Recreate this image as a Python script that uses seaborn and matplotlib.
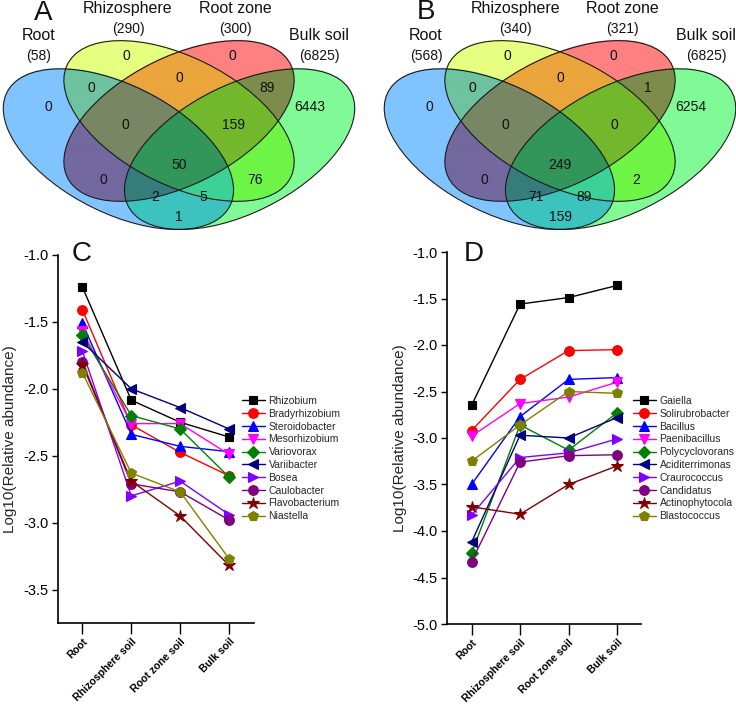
import matplotlib
matplotlib.use("Agg")
import matplotlib.pyplot as plt
import matplotlib.colors as mcolors
import seaborn as sns
import pandas as pd
import numpy as np
from matplotlib.patches import Ellipse

# ---------------- data ----------------
venn_sets = ["Root", "Rhizosphere", "Root zone", "Bulk soil"]
venn_a_totals = [58, 290, 300, 6825]
venn_b_totals = [568, 340, 321, 6825]
# region order: Root, Rhizo, RootZone, Bulk, Root&Rhizo, Rhizo&RZ, RZ&Bulk,
# Root&Rhizo&RZ, Rhizo&RZ&Bulk, Root&RZ, all four, Rhizo&Bulk,
# Root&RZ&Bulk, Root&Rhizo&Bulk, Root&Bulk
venn_a_counts = [0, 0, 0, 6443, 0, 0, 89, 0, 159, 0, 50, 76, 2, 5, 1]
venn_b_counts = [0, 0, 0, 6254, 0, 0, 1, 0, 0, 0, 249, 2, 71, 89, 159]

sites = ["Root", "Rhizosphere soil", "Root zone soil", "Bulk soil"]

c_genera = ["Rhizobium", "Bradyrhizobium", "Steroidobacter", "Mesorhizobium",
            "Variovorax", "Variibacter", "Bosea", "Caulobacter",
            "Flavobacterium", "Niastella"]
c_values = [
    [-1.24, -2.085, -2.25, -2.36],
    [-1.41, -2.27, -2.475, -2.65],
    [-1.51, -2.34, -2.43, -2.47],
    [-1.57, -2.26, -2.26, -2.49],
    [-1.60, -2.20, -2.30, -2.66],
    [-1.65, -2.00, -2.14, -2.30],
    [-1.72, -2.80, -2.69, -2.94],
    [-1.80, -2.71, -2.77, -2.98],
    [-1.82, -2.69, -2.95, -3.32],
    [-1.88, -2.63, -2.77, -3.27],
]

d_genera = ["Gaiella", "Solirubrobacter", "Bacillus", "Paenibacillus",
            "Polycyclovorans", "Aciditerrimonas", "Craurococcus", "Candidatus",
            "Actinophytocola", "Blastococcus"]
d_values = [
    [-2.65, -1.56, -1.49, -1.36],
    [-2.92, -2.37, -2.06, -2.05],
    [-3.50, -2.77, -2.37, -2.35],
    [-2.98, -2.63, -2.56, -2.40],
    [-4.24, -2.86, -3.13, -2.73],
    [-4.12, -2.97, -3.00, -2.78],
    [-3.83, -3.21, -3.16, -3.01],
    [-4.33, -3.26, -3.19, -3.18],
    [-3.74, -3.82, -3.50, -3.30],
    [-3.25, -2.86, -2.50, -2.52],
]

# ---------------- style ----------------
sns.set_theme(style="ticks")
plt.rcParams['font.family'] = ['Liberation Sans', 'DejaVu Sans']
plt.rcParams['axes.unicode_minus'] = False

W, H = 736, 706
fig = plt.figure(figsize=(W / 100, H / 100), dpi=100)


def fx(px):
    return px / W


def fy(py):
    return 1 - py / H


line_colors = ["#000000", "#FF0000", "#0000FF", "#FF00FF", "#008000",
               "#000080", "#8000FF", "#800080", "#800000", "#808000"]
line_markers = ["s", "o", "^", "v", "D", "<", ">", "o", "*", "p"]
marker_sizes = [6, 7, 7, 7, 6, 7, 7, 7, 9, 7.5]

# ---------------- Venn diagrams ----------------
ell_specs = [((0.35, 0.47), 135), ((0.50, 0.57), 135),
             ((0.50, 0.57), 45), ((0.65, 0.47), 45)]
ELL_A, ELL_B = 0.35, 0.20
# membership keys (Root, Rhizo, RootZone, Bulk) in the same order as counts
region_keys = [(1, 0, 0, 0), (0, 1, 0, 0), (0, 0, 1, 0), (0, 0, 0, 1),
               (1, 1, 0, 0), (0, 1, 1, 0), (0, 0, 1, 1), (1, 1, 1, 0),
               (0, 1, 1, 1), (1, 0, 1, 0), (1, 1, 1, 1), (0, 1, 0, 1),
               (1, 0, 1, 1), (1, 1, 0, 1), (1, 0, 0, 1)]
region_colors = ["#80C4FF", "#E6FF80", "#FF8080", "#80FA96",
                 "#6EC3A0", "#EBA53C", "#7D8C4B", "#788764",
                 "#73B82D", "#73699F", "#32965A", "#6EF546",
                 "#367D7D", "#3CD296", "#3CC3BE"]
region_pos = [(0.176, 0.620), (0.369, 0.801), (0.631, 0.801), (0.824, 0.620),
              (0.282, 0.687), (0.500, 0.7225), (0.718, 0.687),
              (0.366, 0.556), (0.634, 0.556), (0.312, 0.3605),
              (0.500, 0.414), (0.688, 0.3605), (0.441, 0.300),
              (0.559, 0.300), (0.500, 0.229)]
label_pos = [(0.1535, 0.8751, 0.8006), (0.3738, 0.9709, 0.8964),
             (0.6386, 0.9709, 0.8964), (0.8465, 0.8751, 0.8006)]
VENN_YLIM = (0.0767, 0.9993)


def venn_image(xlim, ylim, nx=1472, ny=1040):
    xs = np.linspace(xlim[0], xlim[1], nx)
    ys = np.linspace(ylim[0], ylim[1], ny)
    X, Y = np.meshgrid(xs, ys)
    masks = []
    for (c, ang) in ell_specs:
        t = np.deg2rad(ang)
        dx, dy = X - c[0], Y - c[1]
        u = dx * np.cos(t) + dy * np.sin(t)
        v = -dx * np.sin(t) + dy * np.cos(t)
        masks.append((u / ELL_A) ** 2 + (v / ELL_B) ** 2 <= 1)
    img = np.ones(X.shape + (3,))
    for key, col in zip(region_keys, region_colors):
        m = np.ones(X.shape, bool)
        for k, inside in zip(key, masks):
            m &= inside if k else ~inside
        img[m] = mcolors.to_rgb(col)
    return img


def draw_venn(rect, xlim, totals, counts, letter, letter_xy, lab_shift):
    ax = fig.add_axes(rect)
    img = venn_image(xlim, VENN_YLIM)
    ax.imshow(img, origin="lower", extent=(xlim[0], xlim[1],
                                           VENN_YLIM[0], VENN_YLIM[1]),
              aspect="auto", interpolation="antialiased")
    ax.set_xlim(*xlim)
    ax.set_ylim(*VENN_YLIM)
    ax.axis("off")
    for (c, ang) in ell_specs:
        ax.add_patch(Ellipse(c, 2 * ELL_A, 2 * ELL_B, angle=ang, fill=False,
                             edgecolor="#1a1a1a", linewidth=0.8))
    for (x, y), n in zip(region_pos, counts):
        ax.text(x, y, str(n), ha="center", va="center", fontsize=10,
                color="#111111")
    for (x, y1, y2), name, tot in zip(label_pos, venn_sets, totals):
        ax.text(x + lab_shift, y1, name, ha="center", va="center",
                fontsize=11.5, color="#111111")
        ax.text(x + lab_shift, y2, f"({tot})", ha="center", va="center",
                fontsize=10, color="#111111")
    fig.text(fx(letter_xy[0]), fy(letter_xy[1]), letter, ha="center",
             va="center", fontsize=20, color="#111111")


draw_venn([0, fy(260), 368 / W, 260 / H], (0.0569, 0.9678),
          venn_a_totals, venn_a_counts, "A", (43, 13), 0.0)
draw_venn([368 / W, fy(260), 368 / W, 260 / H], (0.0248, 0.9356),
          venn_b_totals, venn_b_counts, "B", (426, 12), 0.015)


# ---------------- line charts ----------------
def draw_lines(rect, genera, values, ylim, yticks, letter, letter_xy,
               leg_xy):
    ax = fig.add_axes(rect)
    for g, vals, col, mk, ms in zip(genera, values, line_colors,
                                    line_markers, marker_sizes):
        df = pd.DataFrame({"site": sites, "value": vals})
        sns.lineplot(data=df, x="site", y="value", ax=ax, color=col,
                     marker=mk, markersize=ms, markeredgecolor=col,
                     markeredgewidth=0.8, linewidth=1.0, label=g, sort=False)
    ax.set_xlim(-0.5, 3.5)
    ax.set_ylim(*ylim)
    ax.set_yticks(yticks)
    ax.set_yticklabels([f"{v:.1f}" for v in yticks], fontsize=10.5)
    ax.set_xticks(range(len(sites)))
    ax.set_xticklabels(sites, rotation=45, ha="right",
                       rotation_mode="anchor", fontsize=7.6,
                       fontweight="bold")
    ax.set_xlabel("")
    ax.set_ylabel("Log10(Relative abundance)", fontsize=11, labelpad=4)
    sns.despine(ax=ax)
    for s in ("left", "bottom"):
        ax.spines[s].set_linewidth(1.2)
        ax.spines[s].set_color("black")
    ax.tick_params(axis="y", direction="out", length=4, width=1.0,
                   pad=3, colors="black")
    ax.tick_params(axis="x", direction="out", length=8, width=1.0,
                   pad=1.5, colors="black")
    ax.grid(False)
    ax.legend(loc="upper left", bbox_to_anchor=(fx(leg_xy[0]), fy(leg_xy[1])),
              bbox_transform=fig.transFigure, frameon=False, fontsize=7.5,
              handlelength=2.2, handletextpad=0.35, labelspacing=0.27,
              borderpad=0, borderaxespad=0)
    fig.text(fx(letter_xy[0]), fy(letter_xy[1]), letter, ha="center",
             va="center", fontsize=20, color="#111111")
    return ax


draw_lines([fx(58), fy(623), (253.5 - 58) / W, (623 - 255) / H],
           c_genera, c_values, (-3.75, -1.0),
           [-3.5, -3.0, -2.5, -2.0, -1.5, -1.0], "C", (82, 254), (242, 396))
draw_lines([fx(447.3), fy(624), 194 / W, (624 - 252) / H],
           d_genera, d_values, (-5.0, -1.0),
           [-5.0, -4.5, -4.0, -3.5, -3.0, -2.5, -2.0, -1.5, -1.0], "D",
           (474, 254), (633, 396))

fig.savefig("out.png", dpi=100)
